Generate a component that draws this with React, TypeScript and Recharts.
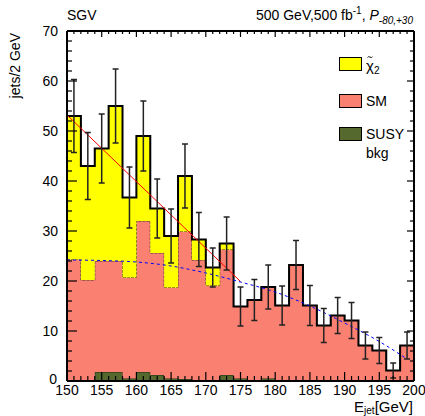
import { ComposedChart, Area, Line, Scatter, ErrorBar, XAxis, YAxis } from "recharts"

const binLow = [150, 152, 154, 156, 158, 160, 162, 164, 166, 168, 170, 172, 174, 176, 178, 180, 182, 184, 186, 188, 190, 192, 194, 196, 198]
const susyBkg = [0, 0, 1.8, 1.8, 0.5, 1.8, 1.2, 0.5, 0.4, 0, 0, 1.2, 0.5, 0, 0.5, 0, 0, 0, 0, 0, 0, 0, 0, 0, 0]
const smOnly = [24.3, 20.2, 22.2, 22.2, 20.2, 30.2, 24.4, 18.2, 29.5, 24.2, 19.1, 25.1, 14.4, 16.2, 18.3, 15.1, 23.2, 15.1, 11.1, 13.1, 12.1, 7.1, 6.1, 2.1, 7.1]
const chi2Sig = [28.7, 22.8, 22.5, 31, 16, 17, 8.9, 10.3, 11.1, 4.1, 3.6, 1.2, 0, 0, 0, 0, 0, 0, 0, 0, 0, 0, 0, 0, 0]
const statErr = [7.3, 6.7, 6.9, 7.4, 6.1, 7.0, 5.9, 5.4, 6.4, 5.4, 3.9, 5.3, 3.9, 4.1, 4.4, 3.9, 4.9, 4.0, 3.4, 3.6, 3.6, 2.7, 2.6, 1.5, 2.7]

// fit curves
const smFitX = [150, 155, 160, 165, 170, 175, 180, 185, 190, 195, 199]
const smFitY = [24.2, 24.1, 23.8, 23.0, 21.6, 19.8, 17.8, 15.0, 11.6, 7.9, 4.4]
const edgeFitX = [150, 175]
const edgeFitY = [53.2, 19.9]

const font = "'Liberation Sans', Arial, Helvetica, sans-serif"

const histData = [...binLow, 200].map((x, i) => {
  const k = Math.min(i, binLow.length - 1)
  return { x, susy: susyBkg[k], sm: smOnly[k], chi2: chi2Sig[k], total: susyBkg[k] + smOnly[k] + chi2Sig[k] }
})
const errData = binLow.map((lo, i) => ({ x: lo + 1, y: susyBkg[i] + smOnly[i] + chi2Sig[i], err: statErr[i] }))
const smFit = smFitX.map((x, i) => ({ x, y: smFitY[i] }))
const edgeFit = edgeFitX.map((x, i) => ({ x, y: edgeFitY[i] }))

const xTicks = Array.from({ length: 51 }, (_, i) => 150 + i)
const yTicks = Array.from({ length: 36 }, (_, i) => i * 2)

function BottomTick({ x, y, payload }: any) {
  const major = payload.value % 5 === 0
  return <g>
    <line x1={x} y1={y} x2={x} y2={y - (major ? 9 : 5)} stroke="#000" strokeWidth={1.2} />
    {major && <text x={x} y={y + 14} textAnchor="middle" fontSize={14} fontFamily={font} fill="#000">{payload.value}</text>}
  </g>
}

function TopTick({ x, y, payload }: any) {
  const major = payload.value % 5 === 0
  return <line x1={x} y1={y} x2={x} y2={y + (major ? 6 : 3)} stroke="#000" strokeWidth={1.2} />
}

function LeftTick({ x, y, payload }: any) {
  const major = payload.value % 10 === 0
  const zero = payload.value === 0
  return <g>
    <line x1={x} y1={y} x2={x + (major ? 10 : 5)} y2={y} stroke="#000" strokeWidth={1.2} />
    {major && <text x={x - (zero ? 10 : 9)} y={y + (zero ? 3 : 5)} textAnchor="end" fontSize={14} fontFamily={font} fill="#000">{payload.value}</text>}
  </g>
}

function RightTick({ x, y, payload }: any) {
  const major = payload.value % 10 === 0
  return <line x1={x} y1={y} x2={x - (major ? 7 : 4)} y2={y} stroke="#000" strokeWidth={1.2} />
}

export default function App() {
  return <div style={{ position: "absolute", left: 0, top: 0, width: 425, height: 416, background: "#fff" }}>
    <ComposedChart width={425} height={416} data={histData} margin={{ top: 0, right: 0, bottom: 0, left: 0 }}>
      <XAxis dataKey="x" type="number" domain={[150, 200]} allowDataOverflow ticks={xTicks} interval={0}
        height={35} tickSize={0} tickMargin={0} tickLine={false} tick={BottomTick}
        axisLine={{ stroke: "#000", strokeWidth: 2 }} />
      <XAxis xAxisId="top" orientation="top" dataKey="x" type="number" domain={[150, 200]} allowDataOverflow ticks={xTicks} interval={0}
        height={31} tickSize={0} tickMargin={0} tickLine={false} tick={TopTick}
        axisLine={{ stroke: "#000", strokeWidth: 2 }} />
      <YAxis type="number" domain={[0, 70]} allowDataOverflow ticks={yTicks} interval={0}
        width={67} tickSize={0} tickMargin={0} tickLine={false} tick={LeftTick}
        axisLine={{ stroke: "#000", strokeWidth: 2 }} />
      <YAxis yAxisId="right" orientation="right" type="number" domain={[0, 70]} allowDataOverflow ticks={yTicks} interval={0}
        width={11} tickSize={0} tickMargin={0} tickLine={false} tick={RightTick}
        axisLine={{ stroke: "#000", strokeWidth: 2 }} />

      <Area dataKey="susy" stackId="s" type="stepAfter" fill="#55692f" fillOpacity={1} stroke="#1e2a10" strokeWidth={1} isAnimationActive={false} />
      <Area dataKey="sm" stackId="s" type="stepAfter" fill="#fa8072" fillOpacity={1} stroke="#3a2a20" strokeWidth={1} strokeDasharray="3 1" isAnimationActive={false} />
      <Area dataKey="chi2" stackId="s" type="stepAfter" fill="#ffff00" fillOpacity={1} stroke="#3a3a10" strokeWidth={1} strokeDasharray="3 1" isAnimationActive={false} />
      <Line dataKey="total" type="stepAfter" stroke="#000" strokeWidth={2} dot={false} isAnimationActive={false} />

      <Line data={edgeFit} dataKey="y" type="linear" stroke="#ff0000" strokeWidth={1} dot={false} isAnimationActive={false} />
      <Line data={smFit} dataKey="y" type="monotone" stroke="#0000ff" strokeWidth={1} strokeDasharray="3 3" dot={false} isAnimationActive={false} />

      <Scatter data={errData} dataKey="y" shape={() => <g />} isAnimationActive={false}>
        <ErrorBar dataKey="err" direction="y" width={3} stroke="#222" strokeWidth={1.5} isAnimationActive={false} />
      </Scatter>
    </ComposedChart>

    <svg width={425} height={416} style={{ position: "absolute", left: 0, top: 0, pointerEvents: "none" }} fontFamily={font}>
      <text x={67} y={20} fontSize={14} fill="#000">SGV</text>
      <text x={413} y={20} fontSize={14} textAnchor="end" fill="#000">
        500 GeV,500 fb<tspan dy={-6} fontSize={10}>-1</tspan><tspan dy={6}>, </tspan>
        <tspan fontStyle="italic">P</tspan><tspan dy={4} fontSize={10} fontStyle="italic">-80,+30</tspan>
      </text>
      <text transform="translate(20,33) rotate(-90)" textAnchor="end" fontSize={14} fill="#000">jets/2 GeV</text>
      <text x={413} y={412} textAnchor="end" fontSize={15} fill="#000">
        E<tspan dy={2} fontSize={10}>jet</tspan><tspan dy={-2}>[GeV]</tspan>
      </text>

      <rect x={339.5} y={57.5} width={22} height={13} fill="#ffff00" stroke="#000" />
      <path d="M367.5,57.5 q1.2,-1.6 2.5,-0.4 q1.3,1.2 2.5,-0.4" fill="none" stroke="#000" strokeWidth={0.9} />
      <text x={366} y={71} fontSize={15} fill="#000">χ<tspan dy={3} fontSize={10}>2</tspan></text>
      <rect x={339.5} y={94.5} width={22} height={13} fill="#fa8072" stroke="#000" />
      <text x={366} y={106} fontSize={14} fill="#000">SM</text>
      <rect x={339.5} y={127.5} width={22} height={13} fill="#55692f" stroke="#000" />
      <text x={366} y={139} fontSize={14} fill="#000">SUSY</text>
      <text x={366} y={158} fontSize={14} fill="#000">bkg</text>
    </svg>
  </div>
}
